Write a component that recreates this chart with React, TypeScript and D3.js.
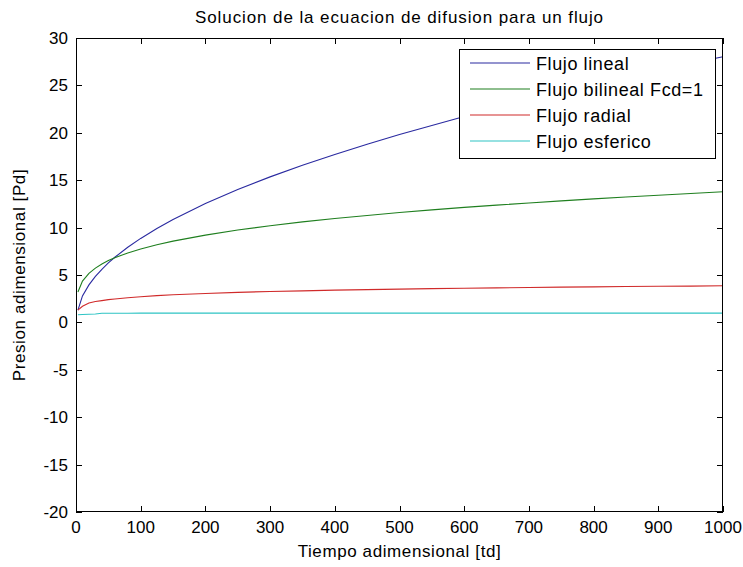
import React from "react";
import * as d3 from "d3";

const title = "Solucion de la ecuacion de difusion para un flujo";
const xLabel = "Tiempo adimensional [td]";
const yLabel = "Presion adimensional [Pd]";

const xTicks = [0, 100, 200, 300, 400, 500, 600, 700, 800, 900, 1000];
const yTicks = [-20, -15, -10, -5, 0, 5, 10, 15, 20, 25, 30];

const td = [3, 10, 20, 30, 40, 50, 60, 80, 100, 125, 150, 200, 250, 300, 350, 400, 450, 500, 550, 600, 650, 700, 750, 800, 850, 900, 950, 1000];

const flujoLineal = [1.3, 2.8, 3.96, 4.85, 5.6, 6.27, 6.87, 7.93, 8.86, 9.91, 10.85, 12.53, 14.01, 15.35, 16.58, 17.72, 18.8, 19.82, 20.78, 21.71, 22.6, 23.45, 24.27, 25.07, 25.84, 26.59, 27.32, 28.03];
const flujoBilineal = [3.2, 4.36, 5.18, 5.73, 6.16, 6.52, 6.82, 7.33, 7.75, 8.19, 8.57, 9.21, 9.74, 10.2, 10.6, 10.96, 11.28, 11.59, 11.87, 12.13, 12.37, 12.6, 12.82, 13.03, 13.23, 13.42, 13.6, 13.78];
const flujoRadial = [1.3, 1.7, 2.05, 2.2, 2.3, 2.4, 2.47, 2.6, 2.71, 2.82, 2.91, 3.05, 3.17, 3.26, 3.33, 3.4, 3.46, 3.51, 3.56, 3.6, 3.64, 3.68, 3.72, 3.75, 3.78, 3.81, 3.83, 3.86];
const flujoEsferico = [0.8, 0.84, 0.86, 0.88, 0.97, 0.97, 0.97, 0.97, 0.98, 0.98, 0.98, 0.98, 0.98, 0.98, 0.98, 0.98, 0.98, 0.98, 0.98, 0.98, 0.98, 0.98, 0.98, 0.98, 0.98, 0.98, 0.98, 0.98];

const seriesNames = ["Flujo lineal", "Flujo bilineal Fcd=1", "Flujo radial", "Flujo esferico"];
const seriesColors = ["#2a2aa0", "#1f7f1f", "#d02a2a", "#2ec4c4"];
const seriesValues = [flujoLineal, flujoBilineal, flujoRadial, flujoEsferico];

const W = 743;
const H = 567;
const L = 76;
const R = 723;
const T = 38;
const B = 512;
const FONT = "'Liberation Sans', Arial, Helvetica, sans-serif";

export default function App() {
  const x = d3.scaleLinear().domain([0, 1000]).range([L, R]);
  const y = d3.scaleLinear().domain([-20, 30]).range([B, T]);
  const line = d3
    .line<[number, number]>()
    .x((d) => x(d[0]))
    .y((d) => y(d[1]));
  const tick = 6;

  const legX = 459;
  const legY = 49;
  const legW = 256;
  const legH = 109;
  const rowY = [63, 89, 115, 141];

  return (
    <svg width={W} height={H} style={{ position: "absolute", left: 0, top: 0, background: "#fff" }} fontFamily={FONT}>
      <rect x={0} y={0} width={W} height={H} fill="#fff" />
      <defs>
        <clipPath id="clip">
          <rect x={L} y={T} width={R - L} height={B - T} />
        </clipPath>
      </defs>
      <g clipPath="url(#clip)">
        {seriesValues.map((vals, i) => (
          <path
            key={i}
            d={line(td.map((t, j) => [t, vals[j]] as [number, number])) || ""}
            fill="none"
            stroke={seriesColors[i]}
            strokeWidth={1.1}
          />
        ))}
      </g>
      <rect x={L + 0.5} y={T + 0.5} width={R - L - 1} height={B - T - 1} fill="none" stroke="#000" strokeWidth={1} />
      {xTicks.map((v) => (
        <g key={"xt" + v}>
          <line x1={Math.round(x(v)) + 0.5} x2={Math.round(x(v)) + 0.5} y1={B} y2={B - tick} stroke="#000" />
          <line x1={Math.round(x(v)) + 0.5} x2={Math.round(x(v)) + 0.5} y1={T} y2={T + tick} stroke="#000" />
          <text x={x(v)} y={533} textAnchor="middle" fontSize={17} fill="#000">
            {v}
          </text>
        </g>
      ))}
      {yTicks.map((v) => (
        <g key={"yt" + v}>
          <line x1={L} x2={L + tick} y1={Math.round(y(v)) + 0.5} y2={Math.round(y(v)) + 0.5} stroke="#000" />
          <line x1={R} x2={R - tick} y1={Math.round(y(v)) + 0.5} y2={Math.round(y(v)) + 0.5} stroke="#000" />
          <text x={68} y={y(v) + 6} textAnchor="end" fontSize={17} fill="#000">
            {v}
          </text>
        </g>
      ))}
      <text x={(L + R) / 2} y={23} textAnchor="middle" fontSize={17} letterSpacing={0.9} fill="#000">
        {title}
      </text>
      <text x={(L + R) / 2} y={557} textAnchor="middle" fontSize={17} letterSpacing={0.6} fill="#000">
        {xLabel}
      </text>
      <text
        transform={`translate(25, ${(T + B) / 2}) rotate(-90)`}
        textAnchor="middle"
        fontSize={17}
        letterSpacing={0.6}
        fill="#000"
      >
        {yLabel}
      </text>
      <rect x={legX + 0.5} y={legY + 0.5} width={legW} height={legH} fill="#fff" stroke="#000" strokeWidth={1} />
      {seriesNames.map((name, i) => (
        <g key={name}>
          <line x1={470} x2={530} y1={rowY[i]} y2={rowY[i]} stroke={seriesColors[i]} strokeWidth={1.1} />
          <text x={536} y={rowY[i] + 6.5} fontSize={18} letterSpacing={0.6} fill="#000">
            {name}
          </text>
        </g>
      ))}
    </svg>
  );
}
